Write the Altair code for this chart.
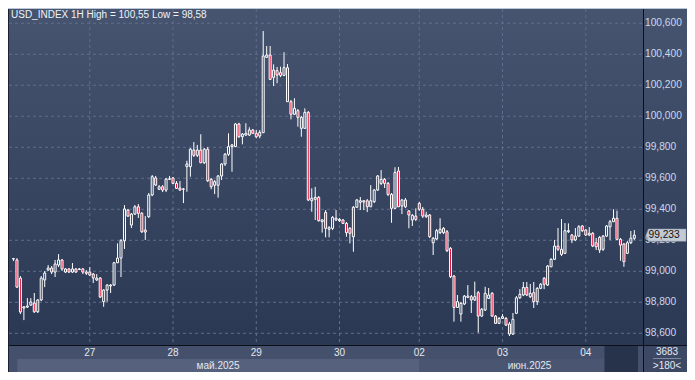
import altair as alt
import pandas as pd

# ---------------- data (USD_INDEX, 1H candles, left to right) ----------------
opens = [
    99.079, 99.073, 98.956, 98.763, 98.769, 98.782, 98.795, 98.739, 98.815, 98.944,
    99.008, 99.021, 98.995, 99.040, 99.073, 99.015, 99.015, 98.995, 99.015, 99.011,
    99.015, 98.995, 98.995, 98.982, 98.944, 98.956, 98.804, 98.879, 98.905, 98.911,
    99.055, 99.085, 99.197, 99.395, 99.298, 99.369, 99.416, 99.374, 99.266, 99.352,
    99.492, 99.602, 99.529, 99.545, 99.524, 99.593, 99.602, 99.567, 99.537, 99.529,
    99.675, 99.675, 99.782, 99.748, 99.782, 99.700, 99.787, 99.593, 99.555, 99.555,
    99.615, 99.692, 99.755, 99.804, 99.804, 99.950, 99.868, 99.879, 99.879, 99.911,
    99.890, 99.873, 99.894, 100.380, 100.395, 100.251, 100.294, 100.281, 100.264, 100.313,
    100.094, 100.013, 100.036, 99.922, 99.922, 100.025, 99.455, 99.464, 99.477, 99.320,
    99.380, 99.271, 99.277, 99.331, 99.326, 99.331, 99.309, 99.277, 99.223, 99.413,
    99.445, 99.455, 99.455, 99.416, 99.449, 99.524, 99.567, 99.593, 99.567, 99.496,
    99.406, 99.647, 99.421, 99.460, 99.389, 99.331, 99.356, 99.438, 99.400, 99.352,
    99.363, 99.184, 99.208, 99.249, 99.277, 99.255, 99.148, 98.969, 98.767, 98.724,
    98.789, 98.832, 98.836, 98.815, 98.862, 98.711, 98.750, 98.825, 98.858, 98.711,
    98.664, 98.696, 98.696, 98.660, 98.595, 98.729, 98.829, 98.847, 98.896, 98.836,
    98.862, 98.804, 98.890, 98.955, 98.911, 99.029, 99.077, 99.163, 99.142, 99.116,
    99.255, 99.234, 99.202, 99.227, 99.292, 99.266, 99.234, 99.245, 99.184, 99.219,
    99.142, 99.227, 99.287, 99.320, 99.342, 99.206, 99.176, 99.116, 99.184, 99.213,
]
closes = [
    99.082, 98.898, 98.737, 98.771, 98.776, 98.802, 98.739, 98.815, 98.956, 98.989,
    99.021, 98.995, 99.047, 99.073, 99.015, 98.995, 98.995, 99.015, 98.995, 99.015,
    98.995, 98.987, 98.976, 98.956, 98.956, 98.834, 98.879, 98.911, 98.911, 99.055,
    99.085, 99.197, 99.402, 99.356, 99.369, 99.416, 99.374, 99.255, 99.253, 99.492,
    99.610, 99.556, 99.545, 99.524, 99.595, 99.597, 99.567, 99.535, 99.524, 99.531,
    99.692, 99.787, 99.748, 99.782, 99.700, 99.787, 99.584, 99.545, 99.578, 99.615,
    99.692, 99.755, 99.804, 99.815, 99.950, 99.868, 99.885, 99.890, 99.911, 99.890,
    99.868, 99.896, 100.389, 100.395, 100.238, 100.298, 100.266, 100.264, 100.313, 100.094,
    100.013, 100.051, 99.993, 99.993, 100.025, 99.460, 99.471, 99.477, 99.326, 99.331,
    99.277, 99.281, 99.348, 99.342, 99.335, 99.309, 99.249, 99.245, 99.413, 99.460,
    99.455, 99.447, 99.416, 99.455, 99.524, 99.615, 99.593, 99.567, 99.496, 99.406,
    99.638, 99.416, 99.460, 99.416, 99.363, 99.361, 99.335, 99.400, 99.356, 99.363,
    99.223, 99.213, 99.262, 99.271, 99.249, 99.133, 98.965, 98.767, 98.804, 98.793,
    98.840, 98.840, 98.815, 98.836, 98.711, 98.755, 98.858, 98.847, 98.711, 98.664,
    98.696, 98.707, 98.653, 98.595, 98.690, 98.829, 98.851, 98.896, 98.847, 98.858,
    98.804, 98.890, 98.916, 98.916, 99.034, 99.077, 99.163, 99.142, 99.109, 99.262,
    99.262, 99.202, 99.227, 99.287, 99.262, 99.234, 99.245, 99.163, 99.158, 99.137,
    99.227, 99.292, 99.320, 99.342, 99.206, 99.169, 99.062, 99.184, 99.213, 99.233,
]
highs = [
    99.085, 99.085, 98.969, 98.776, 98.827, 98.827, 98.860, 98.821, 98.969, 99.002,
    99.040, 99.034, 99.073, 99.111, 99.079, 99.021, 99.021, 99.053, 99.021, 99.021,
    99.021, 99.008, 99.027, 98.989, 98.982, 98.963, 98.885, 98.918, 98.918, 99.060,
    99.180, 99.208, 99.427, 99.402, 99.376, 99.427, 99.434, 99.382, 99.356, 99.505,
    99.621, 99.615, 99.556, 99.556, 99.602, 99.615, 99.608, 99.582, 99.582, 99.537,
    99.713, 99.795, 99.834, 99.815, 99.884, 99.795, 99.802, 99.602, 99.589, 99.621,
    99.698, 99.763, 99.890, 99.821, 99.956, 99.958, 99.892, 99.955, 99.929, 99.918,
    99.911, 99.911, 100.550, 100.453, 100.453, 100.335, 100.318, 100.320, 100.413, 100.337,
    100.105, 100.116, 100.047, 100.002, 100.051, 100.034, 99.535, 99.544, 99.485, 99.337,
    99.395, 99.292, 99.356, 99.395, 99.344, 99.337, 99.318, 99.285, 99.421, 99.466,
    99.479, 99.460, 99.466, 99.556, 99.531, 99.621, 99.653, 99.602, 99.576, 99.505,
    99.671, 99.673, 99.466, 99.473, 99.395, 99.369, 99.406, 99.447, 99.415, 99.384,
    99.369, 99.221, 99.273, 99.342, 99.285, 99.266, 99.156, 98.976, 98.847, 98.802,
    98.847, 98.911, 98.847, 98.933, 98.873, 98.763, 98.900, 98.892, 98.866, 98.718,
    98.705, 98.724, 98.705, 98.673, 98.731, 98.840, 98.885, 98.931, 98.931, 98.918,
    98.931, 98.898, 98.924, 98.963, 99.040, 99.085, 99.202, 99.279, 99.337, 99.311,
    99.309, 99.240, 99.279, 99.298, 99.298, 99.273, 99.285, 99.253, 99.215, 99.227,
    99.234, 99.298, 99.331, 99.400, 99.391, 99.215, 99.182, 99.195, 99.260, 99.266,
]
lows = [
    99.066, 98.892, 98.724, 98.685, 98.763, 98.776, 98.731, 98.731, 98.808, 98.898,
    99.002, 98.982, 98.963, 99.027, 99.002, 98.989, 98.989, 98.989, 98.989, 99.008,
    98.982, 98.976, 98.969, 98.924, 98.937, 98.827, 98.771, 98.804, 98.860, 98.905,
    99.053, 98.963, 99.144, 99.350, 99.279, 99.363, 99.344, 99.247, 99.202, 99.344,
    99.485, 99.550, 99.524, 99.511, 99.511, 99.589, 99.563, 99.531, 99.518, 99.440,
    99.513, 99.610, 99.737, 99.737, 99.698, 99.692, 99.576, 99.529, 99.498, 99.475,
    99.589, 99.679, 99.744, 99.642, 99.808, 99.860, 99.819, 99.873, 99.873, 99.885,
    99.858, 99.858, 99.892, 100.376, 100.234, 100.195, 100.213, 100.253, 100.260, 100.092,
    99.980, 100.008, 99.933, 99.868, 99.918, 99.453, 99.384, 99.331, 99.321, 99.249,
    99.219, 99.219, 99.266, 99.324, 99.318, 99.305, 99.223, 99.180, 99.126, 99.408,
    99.395, 99.395, 99.382, 99.415, 99.440, 99.518, 99.556, 99.537, 99.485, 99.313,
    99.402, 99.415, 99.369, 99.408, 99.277, 99.292, 99.324, 99.389, 99.344, 99.344,
    99.215, 99.105, 99.202, 99.240, 99.240, 99.124, 98.956, 98.675, 98.763, 98.675,
    98.782, 98.827, 98.731, 98.808, 98.604, 98.705, 98.744, 98.821, 98.705, 98.660,
    98.660, 98.692, 98.647, 98.582, 98.589, 98.724, 98.821, 98.840, 98.840, 98.827,
    98.763, 98.782, 98.885, 98.885, 98.905, 99.027, 99.073, 99.131, 99.098, 99.111,
    99.247, 99.182, 99.195, 99.221, 99.253, 99.227, 99.227, 99.156, 99.137, 99.118,
    99.131, 99.221, 99.202, 99.318, 99.202, 99.068, 99.029, 99.111, 99.176, 99.202,
]

price_ticks = [98.6, 98.8, 99.0, 99.2, 99.4, 99.6, 99.8, 100.0, 100.2, 100.4, 100.6]
day_pos = [21, 45, 69, 93, 116, 140, 164]
day_labels = ["27", "28", "29", "30", "02", "03", "04"]
month_start = [0.1, 116.06]
month_end = [116.06, 169.4]
month_mid = [58.0, 147.8]
month_labels = ["май.2025", "июн.2025"]
last_price = 99.233
title_text = "USD_INDEX 1H High = 100,55 Low = 98,58"
bars_visible = ">180<"
counter_text = "3683"

# ---------------- frames ----------------
n = len(opens)
df = pd.DataFrame({"i": list(range(-1, n - 1)), "o": opens, "h": highs, "l": lows, "c": closes})
df["top"] = df[["o", "c"]].max(axis=1)
df["bot"] = df[["o", "c"]].min(axis=1)
df["up"] = df["c"] >= df["o"]

W, H = 634, 336
RP = 44            # right panel width (keeps the page from overflowing)
FONT = "Liberation Sans"
xs = alt.Scale(domain=[-0.851, 179.06], nice=False, zero=False)
ys = alt.Scale(domain=[98.5245, 100.6919], nice=False, zero=False)
X = lambda f: alt.X(f, type="quantitative", scale=xs, axis=None)
X2 = lambda f: alt.X2(f)
Y = lambda f: alt.Y(f, type="quantitative", scale=ys, axis=None)

one = pd.DataFrame({"k": [0]})

grad = alt.Gradient(
    gradient="linear",
    stops=[alt.GradientStop(color="#46546f", offset=0), alt.GradientStop(color="#2b3853", offset=1)],
    x1=0, x2=0, y1=0, y2=1,
)
bg = alt.Chart(one).mark_rect(fill=grad).encode(
    x=alt.value(0), x2=alt.value(W + RP), y=alt.value(0), y2=alt.value(H)
)
date_row = alt.Chart(one).mark_rect(fill="#45516c").encode(
    x=alt.value(0), x2=alt.value(W), y=alt.value(H + 1), y2=alt.value(H + 27)
)
mdf = pd.DataFrame({"s": month_start, "e": month_end, "m": month_mid, "lab": month_labels,
                    "col": ["#56627d", "#4a5671"]})
month_rect = alt.Chart(mdf).mark_rect().encode(
    x=X("s"), x2=X2("e"), y=alt.value(H + 14), y2=alt.value(H + 27),
    fill=alt.Fill("col:N", scale=None),
)
dark_box = alt.Chart(pd.DataFrame({"s": [169.4], "e": [179.06]})).mark_rect(fill="#27324b").encode(
    x=X("s"), x2=X2("e"), y=alt.value(H + 1), y2=alt.value(H + 27)
)
rb_box = alt.Chart(one).mark_rect(fill="#3c4864").encode(
    x=alt.value(W + 1), x2=alt.value(W + RP), y=alt.value(H + 1), y2=alt.value(H + 27)
)

gdf_h = pd.DataFrame({"v": price_ticks})
grid_h = alt.Chart(gdf_h).mark_rule(color="#5f6e8c", strokeDash=[3, 3], strokeWidth=1).encode(
    y=Y("v"), x=alt.value(0), x2=alt.value(W)
)
gdf_v = pd.DataFrame({"p": day_pos, "lab": day_labels})
grid_v = alt.Chart(gdf_v).mark_rule(color="#5f6e8c", strokeDash=[3, 3], strokeWidth=1).encode(
    x=X("p"), y=alt.value(0), y2=alt.value(H)
)

base = alt.Chart(df)
wick_up = base.mark_rule(color="#ffffff", strokeWidth=1, clip=True).encode(x=X("i"), y=Y("h"), y2=alt.Y2("top"))
wick_dn = base.mark_rule(color="#ffffff", strokeWidth=1, clip=True).encode(x=X("i"), y=Y("bot"), y2=alt.Y2("l"))
body = base.mark_bar(size=2, stroke="#ffffff", strokeWidth=1, clip=True, cornerRadius=0).encode(
    x=X("i"), y=Y("top"), y2=alt.Y2("bot"),
    fill=alt.condition(alt.datum.up, alt.value("transparent"), alt.value("#e3123c")),
)

ldf = pd.DataFrame({"v": price_ticks, "lab": [f"{v:.3f}".replace(".", ",") for v in price_ticks]})
ylabels = alt.Chart(ldf).mark_text(align="left", baseline="middle", font=FONT, fontSize=10.2,
                                   color="#cdd8ea").encode(x=alt.value(W + 2), y=Y("v"), text="lab:N")
dlabels = alt.Chart(gdf_v).mark_text(align="center", baseline="middle", font=FONT, fontSize=10,
                                     color="#e2e8f1").encode(x=X("p"), y=alt.value(H + 8), text="lab:N")
mlabels = alt.Chart(mdf).mark_text(align="center", baseline="middle", font=FONT, fontSize=10,
                                   color="#e2e8f1").encode(x=X("m"), y=alt.value(H + 20.5), text="lab:N")
cnt = alt.Chart(pd.DataFrame({"t": [counter_text]})).mark_text(
    align="center", baseline="middle", font=FONT, fontSize=10, color="#e4eaf3"
).encode(x=alt.value(W + 24), y=alt.value(H + 6.5), text="t:N")
vis = alt.Chart(pd.DataFrame({"t": [bars_visible]})).mark_text(
    align="center", baseline="middle", font=FONT, fontSize=10, color="#e4eaf3"
).encode(x=alt.value(W + 24), y=alt.value(H + 21), text="t:N")
sep = alt.Chart(one).mark_rule(color="#7b879e", strokeWidth=1).encode(
    x=alt.value(W + 10), x2=alt.value(W + 38), y=alt.value(H + 13.5)
)

tdf = pd.DataFrame({"v": [last_price], "lab": [f"{last_price:.3f}".replace(".", ",")]})
tag = alt.Chart(tdf).mark_point(
    shape="M -1 0 L -0.88 -0.31 L 1 -0.31 L 1 0.31 L -0.88 0.31 Z",
    size=1600, filled=True, fill="#c4cad4", stroke="#8a94a6", strokeWidth=0.5, opacity=1,
).encode(x=alt.value(W + 23), y=Y("v"))
tag_text = alt.Chart(tdf).mark_text(align="left", baseline="middle", font=FONT, fontSize=10.2,
                                    color="#111111").encode(x=alt.value(W + 5.5), y=Y("v"), text="lab:N")

line_r = alt.Chart(one).mark_rule(color="#0b1019", strokeWidth=1).encode(
    x=alt.value(W + 0.5), y=alt.value(0), y2=alt.value(H + 27)
)
line_b = alt.Chart(one).mark_rule(color="#0b1019", strokeWidth=1).encode(
    x=alt.value(-1), x2=alt.value(W + RP), y=alt.value(H + 0.5)
)
line_l = alt.Chart(one).mark_rule(color="#1a2232", strokeWidth=1).encode(
    x=alt.value(-0.5), y=alt.value(0), y2=alt.value(H + 27)
)
title = alt.Chart(pd.DataFrame({"t": [title_text]})).mark_text(
    align="left", baseline="middle", font=FONT, fontSize=10, color="#eef2f8"
).encode(x=alt.value(2), y=alt.value(6), text="t:N")

chart = alt.layer(
    bg, date_row, month_rect, dark_box, rb_box, grid_h, grid_v,
    wick_up, wick_dn, body,
    ylabels, dlabels, mlabels, cnt, vis, sep, tag, tag_text,
    line_r, line_b, line_l, title,
).properties(
    width=W, height=H,
    autosize=alt.AutoSizeParams(type="none"),
    padding={"left": 1, "top": 1, "right": RP, "bottom": 27},
    background="#bcc8d8",
).configure_view(stroke=None)

chart.save("out.html", embed_options={"renderer": "svg", "actions": False})
